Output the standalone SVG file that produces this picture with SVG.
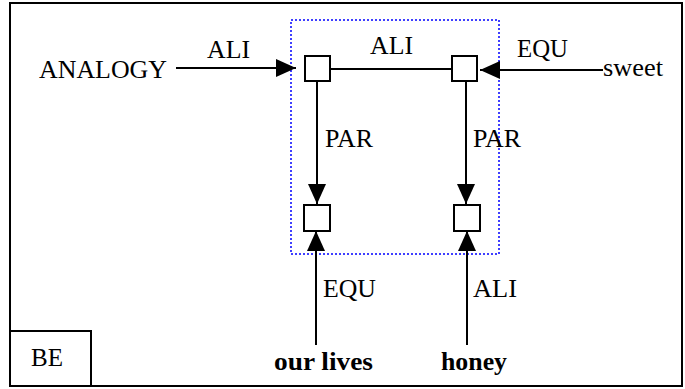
<svg xmlns="http://www.w3.org/2000/svg" width="685" height="389" viewBox="0 0 685 389">
<style>
.t{font-family:"Liberation Serif","Times New Roman",serif;font-size:25px;fill:#000}
.b{font-weight:bold}
.n{fill:#fff;stroke:#000;stroke-width:2}
.c{stroke:#000;stroke-width:2;fill:none}
</style>
<defs>
<marker id="ah" viewBox="0 0 20 18" refX="20" refY="9" markerWidth="20" markerHeight="18" markerUnits="userSpaceOnUse" orient="auto">
<path d="M0,0 L20,9 L0,18 Z" fill="#000"/>
</marker>
</defs>
<rect x="10" y="3" width="672" height="383" fill="#fff" stroke="#000" stroke-width="2"/>
<rect x="291" y="20" width="208" height="234" fill="none" stroke="#0000ff" stroke-width="1.5" stroke-dasharray="2,2"/>
<g id="connectors">
<line class="c" x1="176" y1="68" x2="296" y2="68" marker-end="url(#ah)"/>
<line class="c" x1="330" y1="69" x2="452" y2="69"/>
<line class="c" x1="603" y1="70" x2="480" y2="70" marker-end="url(#ah)"/>
<line class="c" x1="317" y1="81" x2="317" y2="204" marker-end="url(#ah)"/>
<line class="c" x1="466" y1="81" x2="466" y2="204" marker-end="url(#ah)"/>
<line class="c" x1="316" y1="345" x2="316" y2="231" marker-end="url(#ah)"/>
<line class="c" x1="467" y1="345" x2="467" y2="231" marker-end="url(#ah)"/>
<text class="t" x="207" y="58" textLength="43" lengthAdjust="spacingAndGlyphs">ALI</text>
<text class="t" x="370" y="54" textLength="43" lengthAdjust="spacingAndGlyphs">ALI</text>
<text class="t" x="517" y="57" textLength="51" lengthAdjust="spacingAndGlyphs">EQU</text>
<text class="t" x="325" y="147" textLength="48" lengthAdjust="spacingAndGlyphs">PAR</text>
<text class="t" x="473" y="147" textLength="48" lengthAdjust="spacingAndGlyphs">PAR</text>
<text class="t" x="323" y="297" textLength="53" lengthAdjust="spacingAndGlyphs">EQU</text>
<text class="t" x="473" y="297" textLength="44" lengthAdjust="spacingAndGlyphs">ALI</text>
</g>
<g id="n_analogy"><text class="t" x="39" y="78" textLength="128" lengthAdjust="spacingAndGlyphs">ANALOGY</text></g>
<g id="n_sweet"><text class="t" x="603" y="76" textLength="60" lengthAdjust="spacingAndGlyphs">sweet</text></g>
<g id="n_tl"><rect class="n" x="305" y="56" width="25" height="25"/></g>
<g id="n_tr"><rect class="n" x="452" y="56" width="25" height="25"/></g>
<g id="n_bl"><rect class="n" x="304" y="205" width="26" height="26"/></g>
<g id="n_br"><rect class="n" x="454" y="205" width="26" height="26"/></g>
<g id="n_lives"><text class="t b" x="274" y="370" textLength="99" lengthAdjust="spacingAndGlyphs">our lives</text></g>
<g id="n_honey"><text class="t b" x="441" y="370" textLength="66" lengthAdjust="spacingAndGlyphs">honey</text></g>
<g id="n_be"><rect x="10" y="331" width="81" height="55" fill="none" stroke="#000" stroke-width="2"/><text class="t" x="31" y="366" textLength="32" lengthAdjust="spacingAndGlyphs">BE</text></g>
</svg>
